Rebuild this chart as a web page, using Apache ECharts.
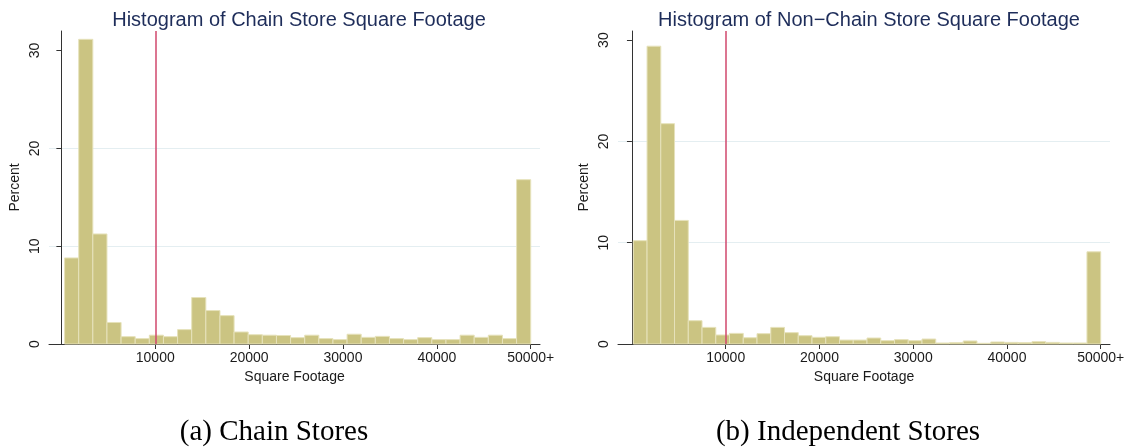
<!DOCTYPE html>
<html>
<head>
<meta charset="utf-8">
<script src="https://cdn.jsdelivr.net/npm/echarts@6/dist/echarts.min.js"></script>
<style>
html,body{margin:0;padding:0;background:#fff;}
#chart{width:1128px;height:447px;}
</style>
</head>
<body>
<div id="chart"></div>
<script>
// ---- data ----
const chainTitle = 'Histogram of Chain Store Square Footage';
const nonChainTitle = 'Histogram of Non\u2212Chain Store Square Footage';
const captions = ['(a) Chain Stores', '(b) Independent Stores'];

// percent per bin (Chain stores, 33 bins)
const chainValues = [8.8, 31.15, 11.25, 2.2, 0.75, 0.55, 0.9, 0.75, 1.47, 4.75, 3.42, 2.9, 1.23, 0.95, 0.9, 0.87, 0.65,
  0.9, 0.55, 0.45, 1.0, 0.68, 0.78, 0.55, 0.45, 0.65, 0.45, 0.45, 0.9, 0.68, 0.9, 0.55, 16.8];
const chainBinStart = 340;
const chainBinEnd = 50000;

// percent per bin (Non-chain stores, 34 bins)
const nonChainValues = [10.2, 29.4, 21.75, 12.2, 2.3, 1.64, 0.89, 1.05, 0.62, 1.02, 1.64, 1.12, 0.82, 0.66, 0.72, 0.39,
  0.39, 0.59, 0.33, 0.43, 0.33, 0.49, 0.1, 0.13, 0.3, 0.07, 0.2, 0.16, 0.13, 0.23, 0.16, 0.1, 0.1, 9.1];
const nonChainBinStart = 144;
const nonChainBinEnd = 50000;

const xTickValues = [10000, 20000, 30000, 40000, 50000];
const xTickLabels = ['10000', '20000', '30000', '40000', '50000+'];
const yTickValues = [0, 10, 20, 30];
const cutoffValue = 10000;

// ---- build ----
function bins(values, start, end) {
  const w = (end - start) / values.length;
  return values.map((v, i) => [start + i * w, start + (i + 1) * w, v]);
}

const BAR_FILL = '#cbc482';
const BAR_EDGE = '#e6e2bb';
const LINE_RED = '#d1476d';
const TEXT = '#1a1a1a';
const FONT = '"Liberation Sans", Arial, sans-serif';
const SERIF = '"Liberation Serif", "Times New Roman", serif';

function renderItem(params, api) {
  const p0 = api.coord([api.value(0), api.value(2)]);
  const p1 = api.coord([api.value(1), 0]);
  return {
    type: 'rect',
    shape: { x: p0[0], y: p0[1], width: p1[0] - p0[0], height: p1[1] - p0[1] },
    style: { fill: BAR_FILL, stroke: BAR_EDGE, lineWidth: 1 }
  };
}

function xAxisCfg(idx, min, max) {
  return {
    gridIndex: idx, type: 'value', min: min, max: max,
    name: 'Square Footage', nameLocation: 'middle', nameGap: 24,
    nameTextStyle: { fontFamily: FONT, fontSize: 14, color: TEXT },
    axisLine: { show: true, onZero: false, lineStyle: { color: '#333', width: 1 } },
    axisTick: { show: true, length: 5, customValues: xTickValues, lineStyle: { color: '#333' } },
    axisLabel: {
      customValues: xTickValues, margin: 7, fontFamily: FONT, fontSize: 14, color: TEXT,
      formatter: v => xTickLabels[xTickValues.indexOf(v)]
    },
    splitLine: { show: false }
  };
}
function yAxisCfg(idx, max) {
  return {
    gridIndex: idx, type: 'value', min: 0, max: max, interval: 10,
    name: 'Percent', nameLocation: 'middle', nameGap: 27, nameRotate: 90,
    nameTextStyle: { fontFamily: FONT, fontSize: 14, color: TEXT },
    axisLine: { show: true, lineStyle: { color: '#333', width: 1 } },
    axisTick: { show: true, length: 5, customValues: yTickValues, lineStyle: { color: '#333' } },
    axisLabel: { customValues: yTickValues, rotate: 90, margin: 7, fontFamily: FONT, fontSize: 14, color: TEXT },
    splitLine: { show: true, showMinLine: false, showMaxLine: false, lineStyle: { color: '#e4eef1', width: 1 } }
  };
}

const chart = echarts.init(document.getElementById('chart'), null, { renderer: 'canvas' });
chart.setOption({
  animation: false,
  backgroundColor: '#ffffff',
  title: [
    { text: chainTitle, left: 294, top: 5, textAlign: 'center',
      textStyle: { fontFamily: FONT, fontSize: 20, fontWeight: 'normal', color: '#1e2d5a' } },
    { text: nonChainTitle, left: 864, top: 5, textAlign: 'center',
      textStyle: { fontFamily: FONT, fontSize: 20, fontWeight: 'normal', color: '#1e2d5a' } },
    { text: captions[0], left: 269, top: 413, textAlign: 'center',
      textStyle: { fontFamily: SERIF, fontSize: 29, fontWeight: 'normal', color: '#000' } },
    { text: captions[1], left: 843, top: 413, textAlign: 'center',
      textStyle: { fontFamily: SERIF, fontSize: 29, fontWeight: 'normal', color: '#000' } }
  ],
  grid: [
    { left: 49, top: 31, width: 491, height: 313 },
    { left: 618, top: 31, width: 492, height: 313 }
  ],
  xAxis: [xAxisCfg(0, -1320, 50990), xAxisCfg(1, -1488, 50992)],
  yAxis: [yAxisCfg(0, 32.0), yAxisCfg(1, 30.9)],
  series: [
    { type: 'custom', xAxisIndex: 0, yAxisIndex: 0, renderItem: renderItem,
      encode: { x: [0, 1], y: 2 }, data: bins(chainValues, chainBinStart, chainBinEnd), z: 2 },
    { type: 'custom', xAxisIndex: 1, yAxisIndex: 1, renderItem: renderItem,
      encode: { x: [0, 1], y: 2 }, data: bins(nonChainValues, nonChainBinStart, nonChainBinEnd), z: 2 },
    { type: 'line', xAxisIndex: 0, yAxisIndex: 0, data: [], z: 5,
      markLine: { silent: true, symbol: ['none', 'none'], label: { show: false },
        lineStyle: { color: LINE_RED, width: 1.5, type: 'solid' }, data: [{ xAxis: cutoffValue }] } },
    { type: 'line', xAxisIndex: 1, yAxisIndex: 1, data: [], z: 5,
      markLine: { silent: true, symbol: ['none', 'none'], label: { show: false },
        lineStyle: { color: LINE_RED, width: 1.5, type: 'solid' }, data: [{ xAxis: cutoffValue }] } }
  ]
});
</script>
</body>
</html>
